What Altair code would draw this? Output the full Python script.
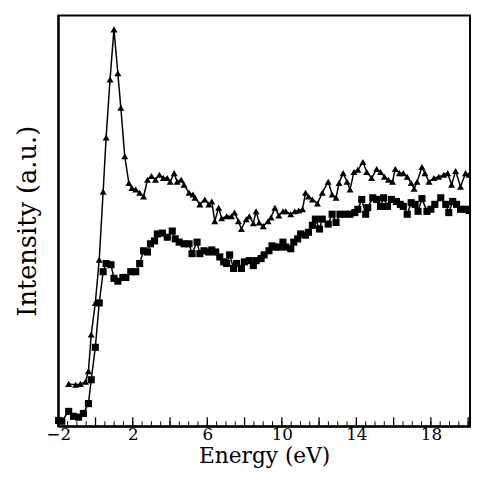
import altair as alt
import pandas as pd

# Triangle series (upper curve)
tri_x = [-1.44, -1.07, -0.81, -0.54, -0.38, -0.23, -0.01, 0.20, 0.41, 0.57, 0.78, 0.99, 1.20, 1.36, 1.57,
         1.79, 1.95, 2.16, 2.37, 2.58, 2.79, 3.00, 3.22, 3.43, 3.64, 3.85, 4.01, 4.22, 4.38, 4.60, 4.75,
         5.02, 5.23, 5.34, 5.60, 5.87, 6.08, 6.24, 6.40, 6.61, 6.77, 7.04, 7.30, 7.46, 7.67, 7.83, 8.09,
         8.25, 8.47, 8.62, 8.78, 9.00, 9.26, 9.42, 9.63, 9.84, 10.06, 10.21, 10.48, 10.69, 10.90, 11.11,
         11.27, 11.43, 11.64, 11.91, 12.17, 12.49, 12.70, 12.91, 13.07, 13.29, 13.50, 13.66, 13.87, 14.08,
         14.35, 14.56, 14.82, 15.09, 15.30, 15.51, 15.72, 15.94, 16.09, 16.31, 16.52, 16.73, 16.94, 17.10,
         17.26, 17.52, 17.68, 17.90, 18.16, 18.42, 18.69, 18.90, 19.11, 19.33, 19.59, 19.86, 20.05]
tri_y = [10.3, 10.1, 10.3, 10.8, 13.4, 22.3, 30.0, 40.5, 57.1, 70.3, 84.4, 96.6, 85.9, 77.5, 65.7,
         59.2, 58.0, 57.6, 56.8, 55.9, 60.0, 60.9, 60.0, 61.2, 60.4, 60.4, 59.5, 61.6, 59.5, 60.0, 58.8,
         56.8, 56.4, 55.6, 54.0, 55.2, 54.0, 54.7, 49.9, 53.2, 50.6, 51.1, 51.1, 52.0, 49.9, 48.0, 50.4,
         51.1, 49.4, 52.3, 49.6, 48.7, 49.9, 50.8, 53.2, 51.3, 52.3, 52.3, 51.6, 52.3, 52.5, 52.8,
         56.8, 55.9, 55.2, 54.2, 56.8, 59.5, 56.4, 55.6, 59.2, 61.6, 59.5, 57.6, 61.9, 62.4,
         64.3, 61.9, 60.4, 62.6, 61.9, 60.7, 60.0, 59.5, 62.6, 61.6, 61.6, 60.7, 59.2, 57.8,
         59.5, 63.1, 61.6, 59.5, 60.4, 60.7, 61.2, 61.6, 58.8, 62.1, 58.3, 61.6, 61.2]

# Square series (lower curve)
sq_x = [-1.98, -1.81, -1.44, -1.18, -0.91, -0.65, -0.38, -0.23, -0.01, 0.20, 0.41, 0.57, 0.83, 0.99, 1.20,
        1.47, 1.63, 1.89, 2.16, 2.37, 2.58, 2.79, 2.95, 3.17, 3.32, 3.59, 3.85, 4.12, 4.28, 4.49, 4.76,
        5.02, 5.18, 5.45, 5.60, 5.82, 6.08, 6.24, 6.45, 6.67, 6.88, 7.04, 7.20, 7.41, 7.57, 7.83, 7.99,
        8.25, 8.47, 8.62, 8.89, 9.05, 9.31, 9.47, 9.68, 9.84, 10.06, 10.21, 10.48, 10.64, 10.85, 11.01,
        11.27, 11.43, 11.64, 11.80, 12.02, 12.17, 12.49, 12.70, 12.91, 13.12, 13.39, 13.66, 13.92, 14.08,
        14.29, 14.50, 14.61, 14.88, 15.09, 15.30, 15.46, 15.67, 15.88, 16.15, 16.36, 16.52, 16.73, 16.94,
        17.15, 17.31, 17.52, 17.79, 18.00, 18.21, 18.53, 18.80, 18.96, 19.17, 19.38, 19.59, 19.86, 20.05]
sq_y = [1.4, 1.2, 3.6, 2.4, 2.2, 3.1, 5.5, 11.3, 19.2, 30.0, 37.6, 39.6, 39.3, 36.0, 35.3,
        36.2, 36.2, 37.6, 37.6, 39.6, 42.7, 42.4, 44.4, 45.1, 46.8, 47.0, 46.0, 47.5, 45.6, 44.8, 44.4,
        44.4, 42.0, 44.8, 42.0, 42.7, 42.4, 42.9, 42.4, 41.2, 40.0, 39.6, 41.7, 38.4, 39.6, 38.4, 40.0,
        40.3, 39.1, 40.3, 40.8, 41.7, 42.7, 43.9, 43.6, 43.6, 44.8, 43.6, 43.2, 44.8, 45.6, 46.8,
        46.5, 47.2, 48.9, 50.4, 48.0, 50.4, 49.2, 51.6, 49.6, 51.6, 51.6, 51.6, 52.0, 52.8,
        55.2, 51.6, 53.2, 55.6, 55.2, 53.5, 55.6, 53.5, 55.2, 54.7, 54.0, 53.5, 51.6, 54.4,
        54.0, 52.3, 55.4, 52.3, 52.8, 54.0, 55.6, 54.0, 52.0, 54.7, 54.0, 52.8, 52.8, 52.5]

major_ticks = [-2, 2, 6, 10, 14, 18]
long_ticks = [-2, 0, 2, 4, 6, 8, 10, 12, 14, 16, 18, 20]
short_ticks = [v / 2 for v in range(-4, 41)]

W, H = 418, 417
FONT = "DejaVu Serif"

df = pd.concat([
    pd.DataFrame({"E": tri_x, "I": tri_y, "s": "tri"}),
    pd.DataFrame({"E": sq_x, "I": sq_y, "s": "sq"}),
])

xs = alt.Scale(domain=[-2, 20.1], nice=False, zero=False)
ys = alt.Scale(domain=[0, 100], nice=False, zero=False)

xenc = alt.X("E:Q", scale=xs, title="Energy (eV)",
             axis=alt.Axis(values=major_ticks, ticks=False, grid=False, labelFont=FONT,
                           labelFontSize=17, labelColor="black", labelPadding=1,
                           titleFont=FONT, titleFontSize=22, titleFontWeight="normal",
                           titleColor="black", titlePadding=3, domainColor="black",
                           domainWidth=2, labelFlush=False))
yenc = alt.Y("I:Q", scale=ys, title="Intensity (a.u.)",
             axis=alt.Axis(labels=False, ticks=False, grid=False, titleFont=FONT,
                           titleFontSize=26, titleFontWeight="normal", titleColor="black",
                           titlePadding=18, domainColor="black", domainWidth=2))

base = alt.Chart(df)
lines = base.mark_line(color="black", strokeWidth=1.5).encode(
    x=xenc, y=yenc, detail="s:N")
tri_pts = base.transform_filter(alt.datum.s == "tri").mark_point(
    shape="triangle-up", filled=True, color="black", size=50, opacity=1).encode(x="E:Q", y="I:Q")
sq_pts = base.transform_filter(alt.datum.s == "sq").mark_point(
    shape="square", filled=True, color="black", size=52, opacity=1).encode(x="E:Q", y="I:Q")

short_df = pd.DataFrame({"t": short_ticks})
long_df = pd.DataFrame({"t": long_ticks})
short_rules = alt.Chart(short_df).mark_rule(color="black", strokeWidth=1).encode(
    x=alt.X("t:Q", scale=xs), y=alt.value(H), y2=alt.value(H - 5))
long_rules = alt.Chart(long_df).mark_rule(color="black", strokeWidth=1.3).encode(
    x=alt.X("t:Q", scale=xs), y=alt.value(H), y2=alt.value(H - 9))

chart = alt.layer(lines, tri_pts, sq_pts, short_rules, long_rules).properties(
    width=W, height=H,
    autosize=alt.AutoSizeParams(type="none"),
    padding={"left": 51, "top": 4, "right": 1, "bottom": 43},
    background="white",
).configure_view(stroke="black", strokeWidth=2)

chart.save("out.html", embed_options={"renderer": "svg", "actions": False})
